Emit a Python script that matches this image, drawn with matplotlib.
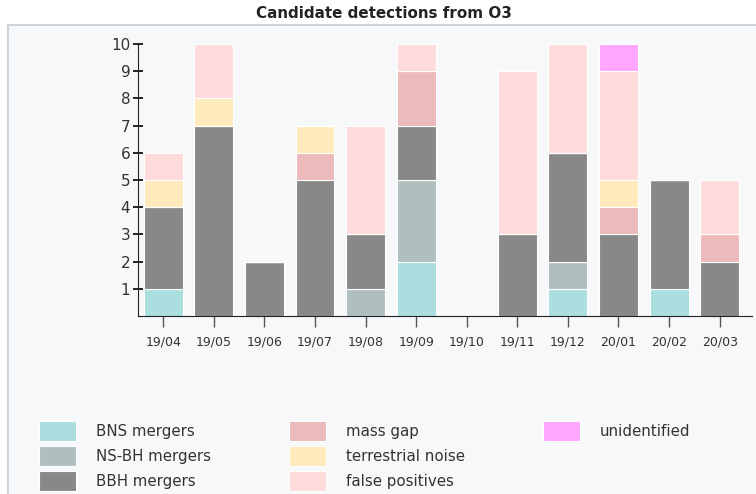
import numpy as np
import matplotlib
matplotlib.use("Agg")
import matplotlib.pyplot as plt
from matplotlib.patches import Rectangle

# data
months = ["19/04", "19/05", "19/06", "19/07", "19/08", "19/09",
          "19/10", "19/11", "19/12", "20/01", "20/02", "20/03"]
bns = [1, 0, 0, 0, 0, 2, 0, 0, 1, 0, 1, 0]
nsbh = [0, 0, 0, 0, 1, 3, 0, 0, 1, 0, 0, 0]
bbh = [3, 7, 2, 5, 2, 2, 0, 3, 4, 3, 4, 2]
mass_gap = [0, 0, 0, 1, 0, 2, 0, 0, 0, 1, 0, 1]
terrestrial = [1, 1, 0, 1, 0, 0, 0, 0, 0, 1, 0, 0]
false_pos = [1, 2, 0, 0, 4, 1, 0, 6, 4, 4, 0, 2]
unidentified = [0, 0, 0, 0, 0, 0, 0, 0, 0, 1, 0, 0]

series = [
    ("BNS mergers", bns, "#aadedf"),
    ("NS-BH mergers", nsbh, "#afbfbf"),
    ("BBH mergers", bbh, "#888888"),
    ("mass gap", mass_gap, "#ecbaba"),
    ("terrestrial noise", terrestrial, "#ffeabb"),
    ("false positives", false_pos, "#ffdbdb"),
    ("unidentified", unidentified, "#ffa6ff"),
]

fig = plt.figure(figsize=(7.56, 4.94), dpi=100)
fig.patch.set_facecolor("white")

# light panel behind everything
panel = Rectangle((8 / 756, -0.01), 1.0, 1 - 25 / 494 + 0.01, transform=fig.transFigure,
                  facecolor="#f7f8fa", edgecolor="#c8ccd4", linewidth=1.2, zorder=-5)
fig.patches.append(panel)

fig.text(0.5 + 6 / 756, 1 - 14 / 494, "Candidate detections from O3", ha="center", va="center",
         fontsize=10.9, fontweight="bold", color="#222222")

ax = fig.add_axes([138 / 756, 1 - 316 / 494, (752 - 138) / 756, (316 - 44) / 494])
ax.set_facecolor("none")

x = np.arange(len(months))
bottom = np.zeros(len(months))
for name, vals, col in series:
    vals = np.array(vals, dtype=float)
    ax.bar(x, vals, width=0.77, bottom=bottom, color=col, edgecolor="white",
           linewidth=0.8, label=name)
    bottom += vals

ax.set_xlim(-0.5, 11.64)
ax.set_ylim(0, 10)
ax.set_yticks(range(1, 11))
ax.set_xticks(x)
ax.set_xticklabels(months, fontsize=9, color="#333333")
for s in ["top", "right"]:
    ax.spines[s].set_visible(False)
ax.spines["left"].set_color("#222222")
ax.spines["bottom"].set_color("#222222")
ax.tick_params(axis="y", direction="inout", length=7, width=1.2, labelsize=11,
               labelcolor="#333333", pad=2)
ax.tick_params(axis="x", direction="out", length=8, width=1, color="#555555", pad=6)

handles, labels = ax.get_legend_handles_labels()
# two empty slots so the columns fill 3 / 3 / 1
for _ in range(2):
    handles.append(Rectangle((0, 0), 1, 1, fill=False, edgecolor="none", visible=False))
    labels.append("")
fig.legend(handles, labels, loc="upper left", bbox_to_anchor=(39 / 756, 1 - 421 / 494),
           ncol=3, frameon=False, fontsize=10.8, handlelength=2.45, handleheight=1.64,
           handletextpad=1.35, columnspacing=5.2, labelspacing=0.37, borderpad=0,
           borderaxespad=0, labelcolor="#333333")

fig.savefig("out.png", dpi=100, facecolor=fig.get_facecolor())
